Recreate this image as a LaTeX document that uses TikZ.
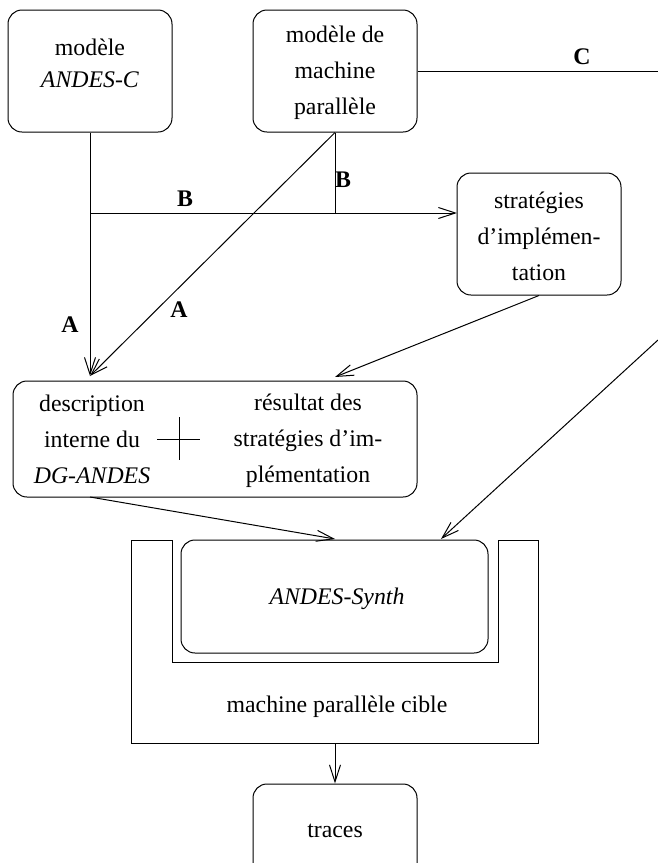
\documentclass[tikz,border=0pt]{standalone}
\usepackage{fontspec}
\setmainfont{Liberation Serif}
\usetikzlibrary{arrows.meta}
\begin{document}
\begin{tikzpicture}[x=1pt,y=-1pt,
  box/.style={draw,rounded corners=14pt,line width=1pt,inner sep=0pt},
  txt/.style={inner sep=0pt,align=center,font=\fontsize{23.8pt}{36pt}\selectfont},
  lab/.style={inner sep=0pt,font=\fontsize{23.8pt}{28pt}\selectfont\bfseries},
  conn/.style={line width=1pt},
  arr/.style={conn,-{Straight Barb[length=17pt,width=11pt]}}]
\useasboundingbox (0,0) rectangle (658,863);
\clip (0,0) rectangle (658,863);
% boxes
\node[box,minimum width=164pt,minimum height=122pt] (m1) at (90,71) {};
\node[txt,font=\fontsize{23.8pt}{32pt}\selectfont] (m1t) at (90,63) {modèle\\\textit{ANDES-C}};
\node[box,minimum width=164pt,minimum height=122pt] (m2) at (335,71) {};
\node[txt] (m2t) at (335,73) {modèle de\\machine\\parallèle};
\node[box,minimum width=164pt,minimum height=122pt] (s) at (539,234) {};
\node[txt] (st) at (539,236) {stratégies\\d’implémen-\\tation};
\node[box,minimum width=404pt,minimum height=116pt] (d) at (215,439) {};
\node[txt] (dl) at (92,439) {description\\interne du\\\textit{DG-ANDES}};
\node[txt] (dr) at (308,441) {résultat des\\stratégies d’im-\\plémentation};
\draw[conn] (157,439) -- (200,439);
\draw[conn] (179,417) -- (179,460);
% target machine frame
\draw[conn] (131,540) -- (172,540) -- (172,662) -- (498,662) -- (498,540) -- (538,540) -- (538,743) -- (131,743) -- cycle;
\node[box,minimum width=307pt,minimum height=113pt] (sy) at (334.5,596.5) {};
\node[txt] (syt) at (337,599) {\textit{ANDES-Synth}};
\node[txt] (mc) at (337,707) {machine parallèle cible};
\node[box,minimum width=164pt,minimum height=94pt] (t) at (335,831) {};
\node[txt] (tt) at (335,831) {traces};
% coordinates
\coordinate (a1) at (90,376);
\coordinate (bj) at (90,213);
\coordinate (b2) at (335,213);
\coordinate (b4) at (457,213);
\coordinate (cend) at (658,71);
\coordinate (a3) at (335,377);
\coordinate (d1) at (90,497);
\coordinate (sy1) at (335,539);
\coordinate (cin) at (658,340);
\coordinate (sy2) at (441,539);
\coordinate (fb) at (335,743);
% connectors
\draw[arr] (m1.south) -- (a1);
\draw[arr] (m2.south) -- (a1);
\draw[arr] (bj) -- (b4);
\draw[conn] (m2.south) -- (b2);
\draw[conn] (m2.east) -- (cend);
\draw[arr] (s.south) -- (a3);
\draw[arr] (d1) -- (sy1);
\draw[arr] (cin) -- (sy2);
\draw[arr] (fb) -- (t.north);
% labels
\node[lab] (lA1) at (70,325) {A};
\node[lab] (lA2) at (179,310) {A};
\node[lab] (lB1) at (185,199) {B};
\node[lab] (lB2) at (343,180) {B};
\node[lab] (lC) at (582,57) {C};
\end{tikzpicture}
\end{document}
